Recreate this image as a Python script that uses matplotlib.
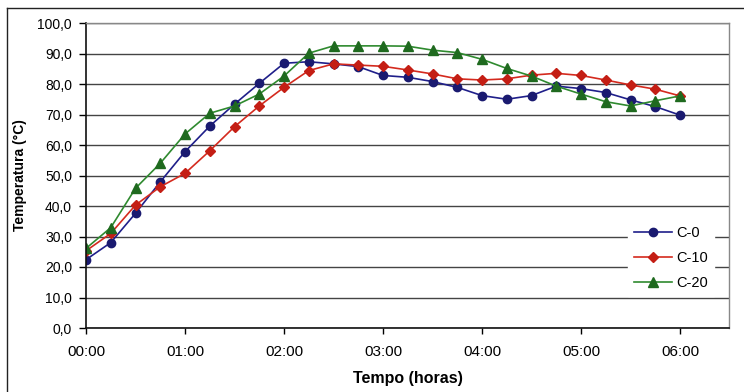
import matplotlib
matplotlib.use("Agg")
import matplotlib.pyplot as plt
from matplotlib.lines import Line2D
from matplotlib.ticker import FuncFormatter, MultipleLocator

plt.rcParams['font.family'] = ['Liberation Sans', 'DejaVu Sans']

times = ["00:00", "00:15", "00:30", "00:45", "01:00", "01:15", "01:30", "01:45",
         "02:00", "02:15", "02:30", "02:45", "03:00", "03:15", "03:30", "03:45",
         "04:00", "04:15", "04:30", "04:45", "05:00", "05:15", "05:30", "05:45", "06:00"]

c0 = [22.4, 28.0, 37.6, 47.9, 57.8, 66.2, 73.4, 80.2, 86.8, 87.3, 86.6, 85.7, 82.8,
      82.2, 80.8, 78.9, 76.2, 75.0, 76.2, 79.3, 78.5, 77.2, 74.8, 72.6, 69.8]
c10 = [25.3, 31.0, 40.3, 46.3, 50.7, 58.1, 66.0, 72.8, 78.9, 84.4, 86.6, 86.2, 85.8,
       84.6, 83.3, 81.7, 81.3, 81.7, 82.9, 83.5, 82.8, 81.3, 79.7, 78.3, 76.1]
c20 = [26.1, 32.9, 45.8, 54.0, 63.6, 70.4, 72.8, 76.7, 82.6, 90.1, 92.5, 92.5, 92.5,
       92.4, 91.1, 90.3, 88.1, 85.1, 82.6, 79.3, 76.7, 74.2, 72.8, 74.5, 76.1]

series_names = ["C-0", "C-10", "C-20"]
hour_ticks = ["00:00", "01:00", "02:00", "03:00", "04:00", "05:00", "06:00"]


def to_hours(s):
    h, m = s.split(":")
    return int(h) + int(m) / 60.0


x = [to_hours(t) for t in times]

W, H = 744, 392
fig = plt.figure(figsize=(W / 100, H / 100), dpi=100)
fig.patch.set_facecolor("white")

# outer chart border (left and top visible)
fig.add_artist(Line2D([7 / W, 7 / W], [0, 1 - 8 / H], transform=fig.transFigure,
                      color="#222222", lw=1.0))
fig.add_artist(Line2D([7 / W, 1], [1 - 8 / H, 1 - 8 / H], transform=fig.transFigure,
                      color="#222222", lw=1.0))

left, right, top, bottom = 86, 729, 23, 328
ax = fig.add_axes([left / W, 1 - bottom / H, (right - left) / W, (bottom - top) / H])

ax.set_xlim(0, (right - left) / 99.0)
ax.set_ylim(0, 100)

ax.yaxis.set_major_locator(MultipleLocator(10))
ax.yaxis.set_major_formatter(FuncFormatter(lambda v, p: f"{v:.1f}".replace(".", ",")))
ax.set_xticks([to_hours(t) for t in hour_ticks])
ax.set_xticklabels(hour_ticks)

ax.grid(axis="y", color="#444444", lw=1.0)
ax.set_axisbelow(True)

for sp in ["top", "right"]:
    ax.spines[sp].set_color("#888888")
    ax.spines[sp].set_linewidth(1.0)
for sp in ["left", "bottom"]:
    ax.spines[sp].set_color("#111111")
    ax.spines[sp].set_linewidth(1.2)

ax.tick_params(axis="y", direction="out", length=5, width=1, pad=5, labelsize=10)
ax.tick_params(axis="x", direction="out", length=4, width=1, pad=8, labelsize=11)

styles = [
    dict(color="#1f1f8a", marker="o", ms=6, mfc="#1a1a70", mec="#1a1a70"),
    dict(color="#d42a1e", marker="D", ms=5.5, mfc="#c41e14", mec="#c41e14"),
    dict(color="#2f8a2f", marker="^", ms=7, mfc="#1f6a1f", mec="#1f6a1f"),
]
for name, ys, st in zip(series_names, [c0, c10, c20], styles):
    ax.plot(x, ys, lw=1.2, label=name, **st)

leg = ax.legend(loc="upper left", bbox_to_anchor=((628 - left) / (right - left),
                                                   (bottom - 220) / (bottom - top)),
                frameon=True, fancybox=False, edgecolor="white", facecolor="white",
                framealpha=1.0, fontsize=10.5, handlelength=2.6, handletextpad=0.3,
                labelspacing=0.75, borderpad=0.4, borderaxespad=0)

ax.set_ylabel("Temperatura (°C)", fontsize=10, fontweight="bold")
ax.yaxis.set_label_coords(-(86 - 27) / (right - left), 0.5)
ax.set_xlabel("Tempo (horas)", fontsize=11.5, fontweight="bold")
ax.xaxis.set_label_coords((408 - left) / (right - left), -(371 - bottom) / (bottom - top))

fig.savefig("out.png", dpi=100, facecolor="white")
